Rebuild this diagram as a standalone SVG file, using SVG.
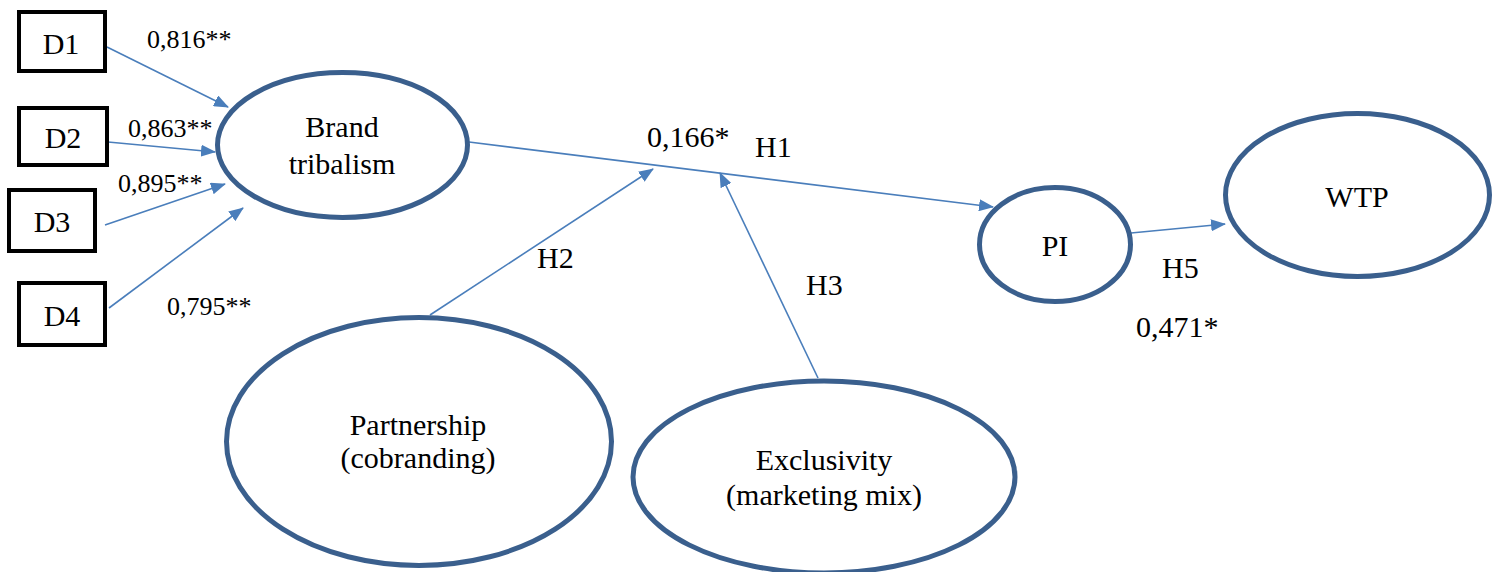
<svg xmlns="http://www.w3.org/2000/svg" width="1494" height="572" viewBox="0 0 1494 572">
<style>
.box{fill:#fff;stroke:#000;stroke-width:4}
.ell{fill:#fff;stroke:#3A5F8D;stroke-width:5}
.lbl{font-family:"Liberation Serif","Times New Roman",serif;font-size:30px;fill:#000;text-anchor:middle}
.sm{font-family:"Liberation Serif","Times New Roman",serif;font-size:26px;fill:#000}
.md{font-family:"Liberation Serif","Times New Roman",serif;font-size:30px;fill:#000}
.con{stroke:#4A7EBB;stroke-width:1.6;fill:none;marker-end:url(#arr)}
</style>
<defs>
<marker id="arr" markerWidth="15" markerHeight="12" refX="14" refY="6" orient="auto" markerUnits="userSpaceOnUse" viewBox="0 0 15 12">
<path d="M0,0 L15,6 L0,12 Z" fill="#4A7EBB"/>
</marker>
</defs>
<rect width="1494" height="572" fill="#fff"/>
<g id="connectors">
<line class="con" x1="107" y1="47" x2="228" y2="107"/>
<line class="con" x1="108" y1="142" x2="215" y2="152"/>
<line class="con" x1="105" y1="225" x2="225" y2="184"/>
<line class="con" x1="109" y1="308" x2="243" y2="208"/>
<line class="con" x1="469" y1="142" x2="993" y2="207"/>
<line class="con" x1="430" y1="315" x2="653" y2="169"/>
<line class="con" x1="818" y1="378" x2="720" y2="173"/>
<line class="con" x1="1131" y1="233" x2="1225" y2="224"/>
</g>
<g id="D1"><rect class="box" x="19" y="12" width="86" height="59"/><text class="lbl" x="61" y="54">D1</text></g>
<g id="D2"><rect class="box" x="19" y="108" width="88" height="57"/><text class="lbl" x="63" y="148">D2</text></g>
<g id="D3"><rect class="box" x="9" y="190" width="86" height="61"/><text class="lbl" x="52" y="232">D3</text></g>
<g id="D4"><rect class="box" x="19" y="283" width="86" height="62"/><text class="lbl" x="62" y="326">D4</text></g>
<g id="brand"><ellipse class="ell" cx="342.5" cy="145" rx="125" ry="72.5"/><text class="lbl" x="342" y="137">Brand</text><text class="lbl" x="342" y="174">tribalism</text></g>
<g id="PI"><ellipse class="ell" cx="1055" cy="244.5" rx="75.5" ry="57"/><text class="lbl" x="1055" y="256">PI</text></g>
<g id="WTP"><ellipse class="ell" cx="1357.5" cy="195" rx="132" ry="81.5"/><text class="lbl" x="1357" y="207">WTP</text></g>
<g id="partnership"><ellipse class="ell" cx="419" cy="441.5" rx="192.5" ry="124"/><text class="lbl" x="418" y="435">Partnership</text><text class="lbl" x="418" y="468">(cobranding)</text></g>
<g id="exclusivity"><ellipse class="ell" cx="824" cy="477" rx="191" ry="96"/><text class="lbl" x="824" y="470">Exclusivity</text><text class="lbl" x="824" y="505">(marketing mix)</text></g>
<g id="labels">
<text class="sm" x="147" y="48">0,816**</text>
<text class="sm" x="128" y="137">0,863**</text>
<text class="sm" x="118" y="192">0,895**</text>
<text class="sm" x="167" y="315">0,795**</text>
<text class="md" x="647" y="147">0,166*</text>
<text class="md" x="755" y="157">H1</text>
<text class="md" x="537" y="268">H2</text>
<text class="md" x="806" y="295">H3</text>
<text class="md" x="1162" y="278">H5</text>
<text class="md" x="1136" y="337">0,471*</text>
</g>
</svg>
